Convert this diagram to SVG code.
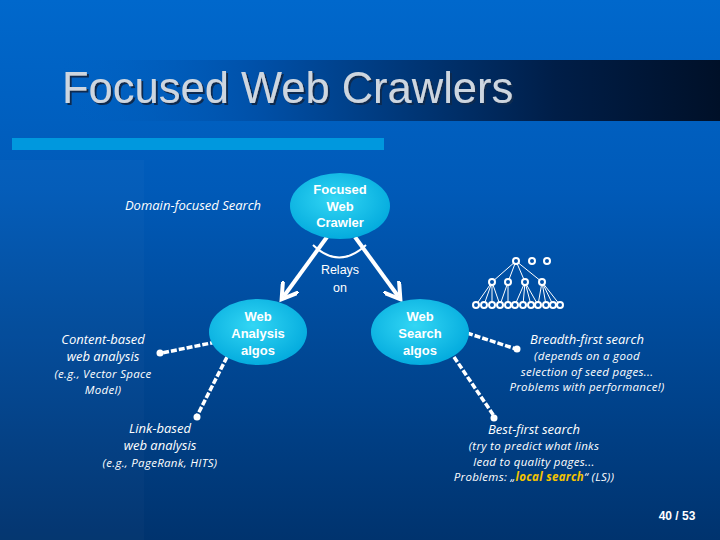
<svg xmlns="http://www.w3.org/2000/svg" width="720" height="540" viewBox="0 0 720 540">
<defs>
<linearGradient id="bg" x1="0" y1="0" x2="0" y2="1">
<stop offset="0" stop-color="#0068cc"/>
<stop offset="0.35" stop-color="#005ab8"/>
<stop offset="1" stop-color="#00336e"/>
</linearGradient>
<linearGradient id="tb" x1="0" y1="0" x2="1" y2="0">
<stop offset="0" stop-color="#0060c0" stop-opacity="0"/>
<stop offset="0.3" stop-color="#0050a8"/>
<stop offset="0.75" stop-color="#001e48"/>
<stop offset="1" stop-color="#001028"/>
</linearGradient>
<radialGradient id="el" cx="0.45" cy="0.4" r="0.65">
<stop offset="0" stop-color="#33d6f4"/>
<stop offset="1" stop-color="#00a8dc"/>
</radialGradient>
<filter id="sh" x="-5%" y="-20%" width="110%" height="140%">
<feDropShadow dx="2" dy="2" stdDeviation="0.5" flood-color="#0a2a50" flood-opacity="1"/>
</filter>
<marker id="ah" viewBox="0 0 10 10" refX="6" refY="5" markerWidth="5" markerHeight="5" orient="auto" markerUnits="strokeWidth">
<path d="M0,0 L8,5 L0,10" fill="none" stroke="#fff" stroke-width="2"/>
</marker>
<style>
.nt{font-family:"Liberation Sans",Arial,sans-serif;font-weight:bold;font-size:13px;fill:#fff;text-anchor:middle}
.it{font-family:"Open Sans","Liberation Sans",sans-serif;font-style:italic;fill:#fff;text-anchor:middle}
.lb{font-size:13px}
.sm{font-size:11.5px;letter-spacing:0.3px}
.dl{stroke:#fff;stroke-width:3.5;stroke-dasharray:6 2;fill:none}
.dot{fill:#fff}
.tr{stroke:#fff;stroke-width:1;fill:none}
.tn{fill:#0050a8;stroke:#fff;stroke-width:2}
</style>
</defs>
<rect width="720" height="540" fill="url(#bg)"/>
<rect x="0" y="160" width="144" height="380" fill="#ffffff" opacity="0.02"/>
<rect x="60" y="60" width="660" height="61" fill="url(#tb)"/>
<text x="62" y="103" font-family="Liberation Sans,Arial,sans-serif" font-size="43.5" fill="#cdd6e0" filter="url(#sh)">Focused Web Crawlers</text>
<rect x="12" y="138" width="372" height="12" fill="#0098de"/>

<g id="connectors">
<line x1="327" y1="237" x2="284" y2="296" stroke="#fff" stroke-width="4" marker-end="url(#ah)"/>
<line x1="355" y1="237" x2="398" y2="296" stroke="#fff" stroke-width="4" marker-end="url(#ah)"/>
<path d="M313,245 Q339,270 366,245" stroke="#fff" stroke-width="2" fill="none"/>
<line class="dl" x1="216" y1="342" x2="162" y2="353"/>
<circle class="dot" cx="160" cy="353" r="3.5"/>
<line class="dl" x1="227" y1="357" x2="197" y2="416"/>
<circle class="dot" cx="197" cy="417" r="3.5"/>
<line class="dl" x1="467" y1="333" x2="516" y2="349"/>
<circle class="dot" cx="517" cy="349" r="3.5"/>
<line class="dl" x1="454" y1="357" x2="494" y2="416"/>
<circle class="dot" cx="494" cy="418" r="3.5"/>
</g>

<g id="tree">
<path class="tr" d="M516,261 L492,282 M516,261 L508,282 M516,261 L525,282 M516,261 L542,282
M492,282 L476,305 M492,282 L484,305 M492,282 L492,305 M492,282 L500,305
M508,282 L508,305 M508,282 L500,305
M525,282 L515,305 M525,282 L523,305 M525,282 L531,305 M525,282 L538,305
M542,282 L538,305 M542,282 L546,305 M542,282 L553,305 M542,282 L560,305"/>
<circle class="tn" cx="516" cy="261" r="3"/>
<circle class="tn" cx="532" cy="261" r="3"/>
<circle class="tn" cx="547" cy="261" r="3"/>
<circle class="tn" cx="492" cy="282" r="3"/>
<circle class="tn" cx="508" cy="282" r="3"/>
<circle class="tn" cx="525" cy="282" r="3"/>
<circle class="tn" cx="542" cy="282" r="3"/>
<circle class="tn" cx="476" cy="305" r="3"/>
<circle class="tn" cx="484" cy="305" r="3"/>
<circle class="tn" cx="492" cy="305" r="3"/>
<circle class="tn" cx="500" cy="305" r="3"/>
<circle class="tn" cx="508" cy="305" r="3"/>
<circle class="tn" cx="515" cy="305" r="3"/>
<circle class="tn" cx="523" cy="305" r="3"/>
<circle class="tn" cx="531" cy="305" r="3"/>
<circle class="tn" cx="538" cy="305" r="3"/>
<circle class="tn" cx="546" cy="305" r="3"/>
<circle class="tn" cx="553" cy="305" r="3"/>
<circle class="tn" cx="560" cy="305" r="3"/>
</g>

<g id="crawler">
<ellipse cx="340" cy="206" rx="50" ry="33" fill="url(#el)"/>
<text class="nt" x="340" y="194">Focused</text>
<text class="nt" x="340" y="211">Web</text>
<text class="nt" x="340" y="227">Crawler</text>
</g>
<g id="relays">
<text class="nt" x="340" y="274" style="font-weight:normal;font-size:12.5px">Relays</text>
<text class="nt" x="340" y="292" style="font-weight:normal;font-size:12.5px">on</text>
</g>
<g id="analysis">
<ellipse cx="258" cy="332" rx="49" ry="33" fill="url(#el)"/>
<text class="nt" x="258" y="321">Web</text>
<text class="nt" x="258" y="338">Analysis</text>
<text class="nt" x="258" y="355">algos</text>
</g>
<g id="search">
<ellipse cx="420" cy="332" rx="49" ry="33" fill="url(#el)"/>
<text class="nt" x="420" y="321">Web</text>
<text class="nt" x="420" y="338">Search</text>
<text class="nt" x="420" y="355">algos</text>
</g>

<g id="domain">
<text class="it lb" x="193" y="210">Domain-focused Search</text>
</g>
<g id="content">
<text class="it lb" x="103" y="344">Content-based</text>
<text class="it lb" x="103" y="361">web analysis</text>
<text class="it sm" x="103" y="378">(e.g., Vector Space</text>
<text class="it sm" x="103" y="394">Model)</text>
</g>
<g id="link">
<text class="it lb" x="160" y="433">Link-based</text>
<text class="it lb" x="160" y="450">web analysis</text>
<text class="it sm" x="160" y="467">(e.g., PageRank, HITS)</text>
</g>
<g id="breadth">
<text class="it lb" x="587" y="344">Breadth-first search</text>
<text class="it sm" x="587" y="360">(depends on a good</text>
<text class="it sm" x="587" y="376">selection of seed pages...</text>
<text class="it sm" x="587" y="391">Problems with performance!)</text>
</g>
<g id="best">
<text class="it lb" x="534" y="434">Best-first search</text>
<text class="it sm" x="534" y="450">(try to predict what links</text>
<text class="it sm" x="534" y="466">lead to quality pages...</text>
<text class="it sm" x="534" y="481">Problems: „<tspan fill="#f5c400" font-weight="bold">local search</tspan>“ (LS))</text>
</g>
<text x="677" y="520" font-family="Liberation Sans,Arial,sans-serif" font-weight="bold" font-size="12" fill="#fff" text-anchor="middle">40 / 53</text>
</svg>
